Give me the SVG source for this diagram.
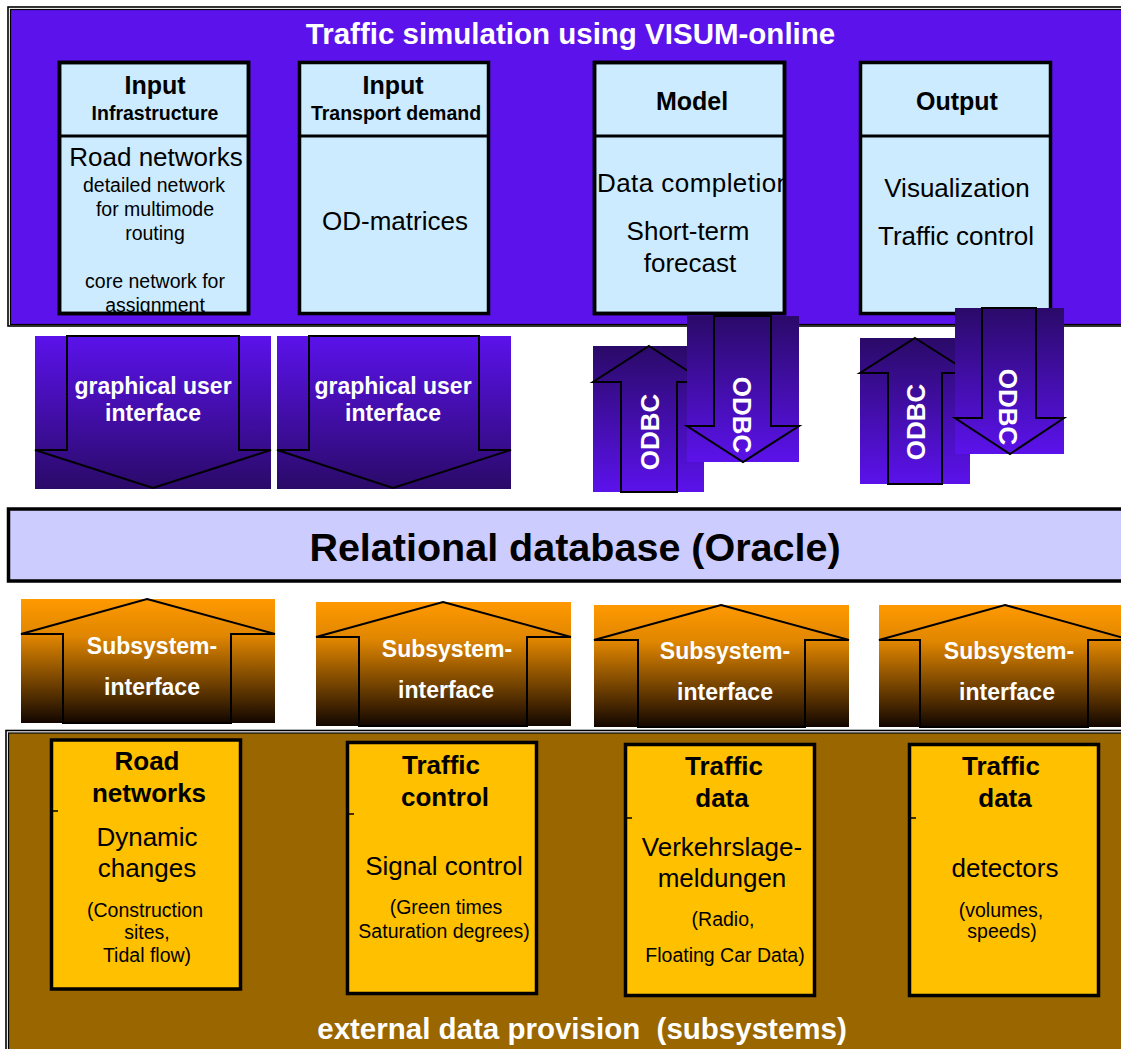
<svg xmlns="http://www.w3.org/2000/svg" width="1121" height="1049" viewBox="0 0 1121 1049">
<defs>
<style>
text{font-family:"Liberation Sans",Arial,sans-serif;text-anchor:middle;}
.w{fill:#fff;font-weight:bold;}
.b{font-weight:bold;fill:#000;}
.r{fill:#000;}
.big{font-size:26px;}
.sm{font-size:19.5px;}
.box{fill:#CCEBFF;stroke:#000;stroke-width:3.5;}
.ybox{fill:#FFC000;stroke:#000;stroke-width:3.5;}
.arr{fill:none;stroke:#000;stroke-width:2;stroke-linejoin:miter;}
.outline{fill:#fff;stroke:#000;stroke-width:1.6;}
</style>
<linearGradient id="gDown" x1="0" y1="0" x2="0" y2="1">
<stop offset="0" stop-color="#5B12EB"/><stop offset="1" stop-color="#2A0A68"/>
</linearGradient>
<linearGradient id="gUp" x1="0" y1="0" x2="0" y2="1">
<stop offset="0" stop-color="#2A0A68"/><stop offset="1" stop-color="#5B12EB"/>
</linearGradient>
<linearGradient id="gOr" x1="0" y1="0" x2="0" y2="1">
<stop offset="0" stop-color="#FF9900"/><stop offset="0.3" stop-color="#E08600"/><stop offset="1" stop-color="#120600"/>
</linearGradient>
<clipPath id="c1"><rect x="61" y="64" width="186" height="248"/></clipPath>
<clipPath id="c3"><rect x="596" y="64" width="188" height="248"/></clipPath>
</defs>

<g id="sim-frame">
<rect class="outline" x="8" y="7" width="1130" height="319"/>
<rect x="10.5" y="9.5" width="1130" height="315" fill="#5B12EB" stroke="#000" stroke-width="1.2"/>
<text class="w" x="570.5" y="44" style="font-size:29.5px">Traffic simulation using VISUM-online</text>
</g>

<g id="input-infrastructure">
<rect class="box" x="59.5" y="62.5" width="189" height="251"/>
<line x1="59.5" y1="136" x2="248.5" y2="136" stroke="#000" stroke-width="3"/>
<text class="b" x="155" y="94" style="font-size:25px">Input</text>
<text class="b" x="155" y="120" style="font-size:19.5px">Infrastructure</text>
<g clip-path="url(#c1)">
<text class="r big" x="156" y="166">Road networks</text>
<text class="r sm" x="154" y="192">detailed network</text>
<text class="r sm" x="155" y="216">for multimode</text>
<text class="r sm" x="155" y="240">routing</text>
<text class="r sm" x="155" y="288">core network for</text>
<text class="r sm" x="155" y="312">assignment</text>
</g>
<rect x="59.5" y="62.5" width="189" height="251" fill="none" stroke="#000" stroke-width="3.5"/>
</g>

<g id="input-demand">
<rect class="box" x="299.5" y="62.5" width="189" height="251"/>
<line x1="299.5" y1="136" x2="488.5" y2="136" stroke="#000" stroke-width="3"/>
<text class="b" x="393" y="94" style="font-size:25px">Input</text>
<text class="b" x="396" y="120" style="font-size:19.5px">Transport demand</text>
<text class="r big" x="395" y="230">OD-matrices</text>
</g>

<g id="model">
<rect class="box" x="594.5" y="62.5" width="190" height="251"/>
<line x1="594.5" y1="136" x2="784.5" y2="136" stroke="#000" stroke-width="3"/>
<text class="b" x="692" y="110" style="font-size:25px">Model</text>
<g clip-path="url(#c3)">
<text class="r big" x="597" y="192" style="text-anchor:start" textLength="194" lengthAdjust="spacing">Data completion</text>
<text class="r big" x="688" y="240">Short-term</text>
<text class="r big" x="690" y="272">forecast</text>
</g>
<rect x="594.5" y="62.5" width="190" height="251" fill="none" stroke="#000" stroke-width="3.5"/>
</g>

<g id="output">
<rect class="box" x="860.5" y="62.5" width="190" height="251"/>
<line x1="860.5" y1="136" x2="1050.5" y2="136" stroke="#000" stroke-width="3"/>
<text class="b" x="957" y="110" style="font-size:25px">Output</text>
<text class="r big" x="957" y="197">Visualization</text>
<text class="r big" x="956" y="245">Traffic control</text>
</g>

<g id="connectors">
<g id="gui-1">
<rect x="35" y="336" width="236" height="153" fill="url(#gDown)"/>
<polygon class="arr" points="67,336 239,336 239,450 271,450 153,488 35,450 67,450"/>
<text class="w" x="153" y="394" style="font-size:23px">graphical user</text>
<text class="w" x="153" y="421" style="font-size:23px">interface</text>
</g>
<g id="gui-2">
<rect x="277" y="336" width="234" height="153" fill="url(#gDown)"/>
<polygon class="arr" points="309,336 479,336 479,450 511,450 393,488 277,450 309,450"/>
<text class="w" x="393" y="394" style="font-size:23px">graphical user</text>
<text class="w" x="393" y="421" style="font-size:23px">interface</text>
</g>
<g id="odbc-up-1">
<rect x="593" y="346" width="111" height="146" fill="url(#gUp)"/>
<polygon class="arr" points="649,346 705,382 677,382 677,492 621,492 621,382 593,382"/>
<text class="w" transform="translate(659,432) rotate(-90)" style="font-size:26px">ODBC</text>
</g>
<g id="odbc-down-1">
<rect x="687" y="316" width="112" height="146" fill="url(#gUp)"/>
<polygon class="arr" points="714,316 771,316 771,426 799,426 743,462 687,426 714,426"/>
<text class="w" transform="translate(733,415) rotate(90)" style="font-size:26px">ODBC</text>
</g>
<g id="odbc-up-2">
<rect x="860" y="338" width="110" height="146" fill="url(#gUp)"/>
<polygon class="arr" points="915,338 970,373 942,373 942,484 888,484 888,373 860,373"/>
<text class="w" transform="translate(925,422) rotate(-90)" style="font-size:26px">ODBC</text>
</g>
<g id="odbc-down-2">
<rect x="955" y="308" width="109" height="146" fill="url(#gUp)"/>
<polygon class="arr" points="982,308 1036,308 1036,418 1064,418 1010,454 955,418 982,418"/>
<text class="w" transform="translate(999,407) rotate(90)" style="font-size:26px">ODBC</text>
</g>
<g id="sub-1">
<rect x="21" y="599" width="254" height="124" fill="url(#gOr)"/>
<polygon class="arr" points="147,599 275,634 231,634 231,723 63,723 63,634 21,634"/>
<text class="w" x="152" y="654" style="font-size:23px">Subsystem-</text>
<text class="w" x="152" y="695" style="font-size:23px">interface</text>
</g>
<g id="sub-2">
<rect x="316" y="602" width="255" height="124" fill="url(#gOr)"/>
<polygon class="arr" points="443,602 571,637 527,637 527,726 359,726 359,637 316,637"/>
<text class="w" x="447" y="657" style="font-size:23px">Subsystem-</text>
<text class="w" x="446" y="698" style="font-size:23px">interface</text>
</g>
<g id="sub-3">
<rect x="594" y="605" width="255" height="122" fill="url(#gOr)"/>
<polygon class="arr" points="721,605 849,640 805,640 805,727 638,727 638,640 594,640"/>
<text class="w" x="725" y="659" style="font-size:23px">Subsystem-</text>
<text class="w" x="725" y="700" style="font-size:23px">interface</text>
</g>
<g id="sub-4">
<rect x="879" y="605" width="260" height="122" fill="url(#gOr)"/>
<polygon class="arr" points="1005,605 1131,640 1088,640 1088,727 920,727 920,640 879,640"/>
<text class="w" x="1009" y="659" style="font-size:23px">Subsystem-</text>
<text class="w" x="1007" y="700" style="font-size:23px">interface</text>
</g>
</g>

<g id="database">
<rect x="8.5" y="509" width="1130" height="72" fill="#CCCCFF" stroke="#000" stroke-width="3.5"/>
<text class="b" x="575" y="561" style="font-size:39.5px">Relational database (Oracle)</text>
</g>

<g id="external-frame">
<rect class="outline" x="6" y="730.5" width="1130" height="330"/>
<rect x="8.5" y="733" width="1130" height="330" fill="#996600" stroke="#000" stroke-width="1.2"/>
<text class="w" x="582" y="1039" style="font-size:29.5px;white-space:pre" xml:space="preserve">external data provision  (subsystems)</text>
</g>

<g id="road-networks">
<rect class="ybox" x="51.5" y="740" width="189" height="249"/>
<line x1="51" y1="811" x2="58" y2="811" stroke="#000" stroke-width="1.5"/>
<text class="b" x="147" y="770" style="font-size:26px">Road</text>
<text class="b" x="149" y="802" style="font-size:26px">networks</text>
<text class="r big" x="147" y="846">Dynamic</text>
<text class="r big" x="147" y="877">changes</text>
<text class="r sm" x="145" y="917">(Construction</text>
<text class="r sm" x="147" y="939">sites,</text>
<text class="r sm" x="147" y="962">Tidal flow)</text>
</g>

<g id="traffic-control">
<rect class="ybox" x="347.5" y="742.5" width="189" height="251"/>
<line x1="347" y1="814" x2="354" y2="814" stroke="#000" stroke-width="1.5"/>
<text class="b" x="441" y="774" style="font-size:26px">Traffic</text>
<text class="b" x="445" y="806" style="font-size:26px">control</text>
<text class="r big" x="444" y="875">Signal control</text>
<text class="r sm" x="446" y="914">(Green times</text>
<text class="r sm" x="444" y="938">Saturation degrees)</text>
</g>

<g id="traffic-data-1">
<rect class="ybox" x="625.5" y="744.5" width="189" height="251"/>
<line x1="625" y1="818" x2="632" y2="818" stroke="#000" stroke-width="1.5"/>
<text class="b" x="724" y="775" style="font-size:26px">Traffic</text>
<text class="b" x="722" y="807" style="font-size:26px">data</text>
<text class="r big" x="722" y="856">Verkehrslage-</text>
<text class="r big" x="722" y="887">meldungen</text>
<text class="r sm" x="723" y="926">(Radio,</text>
<text class="r sm" x="725" y="962">Floating Car Data)</text>
</g>

<g id="traffic-data-2">
<rect class="ybox" x="909.5" y="744.5" width="189" height="251"/>
<line x1="909" y1="818" x2="916" y2="818" stroke="#000" stroke-width="1.5"/>
<text class="b" x="1001" y="775" style="font-size:26px">Traffic</text>
<text class="b" x="1005" y="807" style="font-size:26px">data</text>
<text class="r big" x="1005" y="877">detectors</text>
<text class="r sm" x="1001" y="917">(volumes,</text>
<text class="r sm" x="1002" y="938">speeds)</text>
</g>
</svg>
